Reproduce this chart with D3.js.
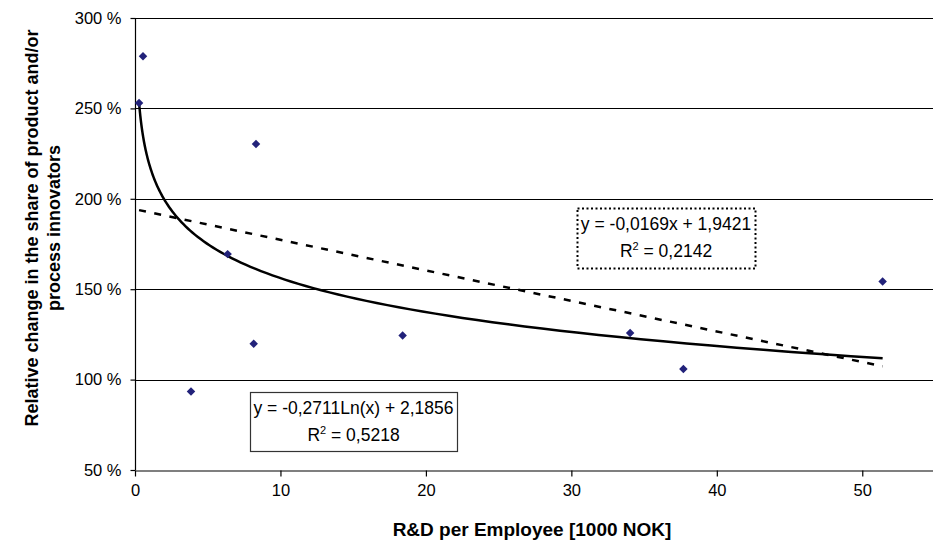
<!DOCTYPE html>
<html>
<head>
<meta charset="utf-8">
<script src="https://cdn.jsdelivr.net/npm/d3@7"></script>
<style>
  body { margin: 0; background: #fff; }
  svg { font-family: "Liberation Sans", Arial, sans-serif; }
</style>
</head>
<body>
<svg></svg>
<script>
// data
let rdPerEmployee = [0.28, 0.55, 3.85, 6.37, 8.16, 8.32, 18.4, 34.04, 37.7, 51.4];
let relChange = [2.53, 2.788, 0.934, 1.694, 1.198, 2.303, 1.244, 1.258, 1.058, 1.542];
let xTicks = [0, 10, 20, 30, 40, 50];
let yTicks = [0.5, 1.0, 1.5, 2.0, 2.5, 3.0];

// trendline coefficients (as printed in the chart)
let linCoef = [-0.0169, 1.9421];
let logCoef = [-0.2711, 2.1856];
let linLabel = ["y = -0,0169x + 1,9421", "0,2142"];
let logLabel = ["y = -0,2711Ln(x) + 2,1856", "0,5218"];

let svgWidth = 933;
let svgHeight = 545;

let svg = d3.select("svg")
  .attr("width", svgWidth)
  .attr("height", svgHeight);

let plotLeft = 135, plotTop = 18, plotRight = 935, plotBottom = 470;

let x = d3.scaleLinear().domain([0, 55]).range([plotLeft, plotRight]);
let y = d3.scaleLinear().domain([0.5, 3.0]).range([plotBottom, plotTop]);

// gridlines
svg.append("g")
  .selectAll("line")
  .data(yTicks.slice(1))
  .enter()
  .append("line")
  .attr("x1", plotLeft)
  .attr("x2", plotRight)
  .attr("y1", d => Math.round(y(d)) + 0.5)
  .attr("y2", d => Math.round(y(d)) + 0.5)
  .attr("stroke", "#000")
  .attr("stroke-width", 1.2);

// axes
let yAxis = d3.axisLeft(y)
  .tickValues(yTicks)
  .tickSize(5)
  .tickPadding(9)
  .tickFormat(d => Math.round(d * 100) + " %");

let xAxis = d3.axisBottom(x)
  .tickValues(xTicks)
  .tickSize(6)
  .tickPadding(8)
  .tickSizeOuter(0);

let gy = svg.append("g")
  .attr("transform", "translate(" + (plotLeft + 0.5) + ",0)")
  .call(yAxis);

let gx = svg.append("g")
  .attr("transform", "translate(0," + (plotBottom + 0.5) + ")")
  .call(xAxis);

[gx, gy].forEach(function (g) {
  g.select(".domain").attr("stroke", "#000").attr("stroke-width", 1.2);
  g.selectAll(".tick line").attr("stroke", "#000").attr("stroke-width", 1.2);
  g.selectAll(".tick text")
    .attr("fill", "#000")
    .style("font-size", "16.5px")
    .style("font-family", "'Liberation Sans', Arial, sans-serif");
});
gy.select(".domain").attr("d", "M0," + y(3.0) + "V" + y(0.5));

// trendlines
let logLine = d3.line()
  .x(d => x(d))
  .y(d => y(logCoef[0] * Math.log(d) + logCoef[1]));

let xMin = d3.min(rdPerEmployee), xMax = d3.max(rdPerEmployee);
let logXs = d3.range(0, 121).map(i => xMin * Math.pow(xMax / xMin, i / 120));

svg.append("path")
  .datum(logXs)
  .attr("d", logLine)
  .attr("fill", "none")
  .attr("stroke", "#000")
  .attr("stroke-width", 2.5);

svg.append("line")
  .attr("x1", x(xMin))
  .attr("y1", y(linCoef[0] * xMin + linCoef[1]))
  .attr("x2", x(xMax))
  .attr("y2", y(linCoef[0] * xMax + linCoef[1]))
  .attr("stroke", "#000")
  .attr("stroke-width", 2.5)
  .attr("stroke-dasharray", "7,8.5");

// markers
let diamond = d3.symbol().type(d3.symbolSquare).size(36);

svg.selectAll(".pt")
  .data(rdPerEmployee)
  .enter()
  .append("path")
  .attr("class", "pt")
  .attr("d", diamond)
  .attr("transform", (d, i) => "translate(" + x(d) + "," + y(relChange[i]) + ") rotate(45)")
  .attr("fill", "#22227a");

// equation boxes
function eqBox(bx, by, bw, bh, lines, dotted) {
  let g = svg.append("g");
  g.append("rect")
    .attr("x", bx + 0.5).attr("y", by + 0.5)
    .attr("width", bw).attr("height", bh)
    .attr("fill", "#fff")
    .attr("stroke", dotted ? "#000" : "#333")
    .attr("stroke-width", dotted ? 2 : 1.2)
    .attr("stroke-dasharray", dotted ? "2,2.5" : null);
  g.append("text")
    .attr("x", bx + bw / 2).attr("y", by + 22)
    .attr("text-anchor", "middle")
    .style("font-size", "17.5px")
    .text(lines[0]);
  let t = g.append("text")
    .attr("x", bx + bw / 2).attr("y", by + 49)
    .attr("text-anchor", "middle")
    .style("font-size", "17.5px");
  t.append("tspan").text("R");
  t.append("tspan").attr("dy", -7).style("font-size", "11px").text("2");
  t.append("tspan").attr("dy", 7).text(" = " + lines[1]);
}

eqBox(577, 208, 178, 60, linLabel, true);
eqBox(250, 392, 207, 59, logLabel, false);

// axis titles
svg.append("text")
  .attr("x", 532)
  .attr("y", 536)
  .attr("text-anchor", "middle")
  .style("font-size", "19px")
  .style("font-weight", "bold")
  .text("R&D per Employee [1000 NOK]");

let yt = svg.append("text")
  .attr("transform", "translate(38,228) rotate(-90)")
  .attr("text-anchor", "middle")
  .style("font-size", "18px")
  .style("font-weight", "bold");
yt.append("tspan").attr("x", 0).attr("y", 0).text("Relative change in the share of product and/or");
yt.append("tspan").attr("x", 0).attr("y", 22).text("process innovators");
</script>
</body>
</html>
